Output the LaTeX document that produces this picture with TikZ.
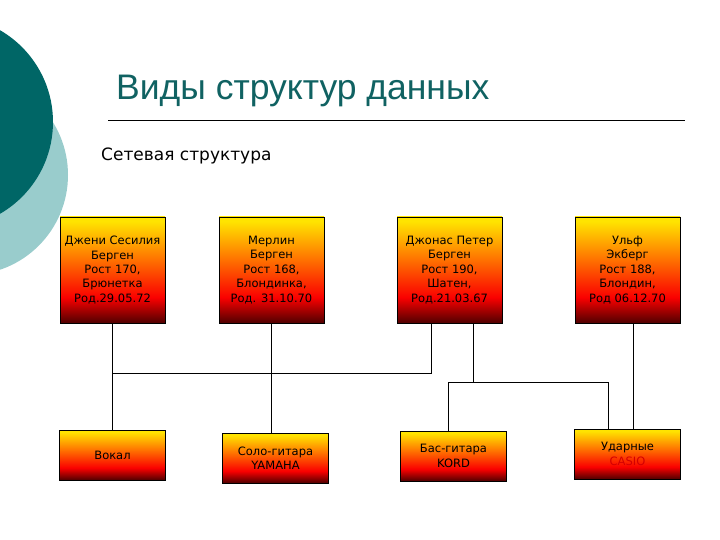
\documentclass[tikz,border=0pt]{standalone}
\usepackage{fontspec}
\setmainfont{DejaVu Sans}
\newfontfamily\titlefont{Liberation Sans}
\usetikzlibrary{positioning, calc}
\definecolor{mytealdark}{RGB}{0,102,102}
\definecolor{mytealpale}{RGB}{153,204,204}
\definecolor{mytitle}{RGB}{16,98,98}
\definecolor{boxyellow}{RGB}{255,228,0}
\definecolor{boxorange}{RGB}{255,120,0}
\definecolor{boxred}{RGB}{250,0,0}
\definecolor{boxdark}{RGB}{80,0,0}
\pgfdeclareverticalshading{bandshade}{100bp}{color(0bp)=(boxdark); color(25bp)=(boxdark); color(37bp)=(boxred); color(56bp)=(boxorange); color(73bp)=(boxyellow); color(100bp)=(boxyellow)}
\tikzset{
  member/.style={rectangle, draw=black, shading=bandshade,
    minimum width=105pt, minimum height=106pt, inner sep=0pt,
    align=center, font=\fontsize{11.5}{14.4}\selectfont, line width=0.8pt},
  role/.style={rectangle, draw=black, shading=bandshade,
    minimum width=106pt, minimum height=50pt, inner sep=0pt,
    align=center, font=\fontsize{11.5}{14.4}\selectfont, line width=0.8pt},
  link/.style={line width=0.8pt, color=black}
}
\begin{document}
\begin{tikzpicture}[x=1pt, y=-1pt]
  \useasboundingbox (0,0) rectangle (720,540);
  % Background circles
  \fill[mytealpale] (-32,175) circle (100);
  \fill[mytealdark] (-53,122) circle (106);
  % Title
  \node[anchor=base west, font=\titlefont\fontsize{35.5}{40}\selectfont, text=mytitle, inner sep=0pt] (title) at (116,100) {Виды структур данных};
  \draw[line width=0.8pt] (108,120) -- (685,120);
  \node[anchor=base west, font=\fontsize{17}{20}\selectfont, inner sep=0pt] (subtitle) at (101,161) {Сетевая структура};

  % Band members
  \node[member] (p1) at (112.5,270) {Джени Сесилия\\Берген\\Рост 170,\\Брюнетка\\Род.29.05.72};
  \node[member] (p2) at (271.5,270) {Мерлин\\Берген\\Рост 168,\\Блондинка,\\Род. 31.10.70};
  \node[member] (p3) at (449.5,270) {Джонас Петер\\Берген\\Рост 190,\\Шатен,\\Род.21.03.67};
  \node[member] (p4) at (627.5,270) {Ульф\\Экберг\\Рост 188,\\Блондин,\\Род 06.12.70};

  % Roles
  \node[role] (vocal) at (112.5,455) {Вокал};
  \node[role] (solo) at (275.5,458) {Соло-гитара\\YAMAHA};
  \node[role] (bass) at (453.5,456) {Бас-гитара\\KORD};
  \node[role] (drums) at (627.5,454) {Ударные\\\textcolor{boxred!85!black}{CASIO}};

  % Connectors
  \coordinate (t3a) at ($(p3.south)+(-18.5,0)$);
  \coordinate (t3b) at ($(p3.south)+(23.5,0)$);
  \coordinate (t4) at ($(p4.south)+(5.5,0)$);
  \coordinate (j1) at (448,382);
  \coordinate (j2) at (608,382);
  \draw[link] (p1.south) -- (vocal.north);
  \draw[link] (p2.south) -- (p2.south |- solo.north);
  \draw[link] ($(p1.south)+(0,50)$) -| (t3a);
  \draw[link] (t3b) -- (t3b |- j1);
  \draw[link] (bass.north -| j1) -- (j1) -- (j2) -- (j2 |- drums.north);
  \draw[link] (t4) -- (t4 |- drums.north);
\end{tikzpicture}
\end{document}
